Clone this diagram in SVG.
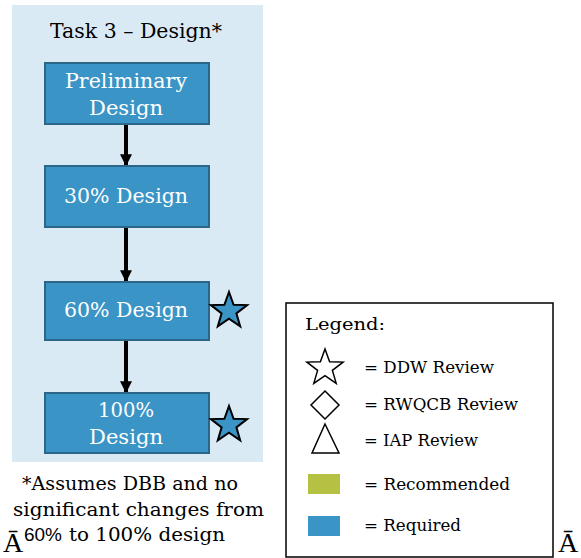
<svg xmlns="http://www.w3.org/2000/svg" width="581" height="558" viewBox="0 0 581 558">
  <defs>
    <style>
      .box { fill: #3A94C6; stroke: #2B6587; stroke-width: 2; }
      .boxlabel { font-family: "DejaVu Serif", "Liberation Serif", serif; fill: #ffffff; font-size: 21px; text-anchor: middle; }
      .blk { font-family: "DejaVu Serif", "Liberation Serif", serif; fill: #000000; }
      .star { fill: #3A94C6; stroke: #000000; stroke-width: 2; stroke-linejoin: miter; }
      .outline { fill: #ffffff; stroke: #000000; stroke-width: 1.5; }
      .conn { stroke: #000000; stroke-width: 4; fill: none; marker-end: url(#head); }
      .mark { font-family: "Liberation Serif", serif; font-size: 28px; fill: #000000; }
    </style>
    <marker id="head" viewBox="0 0 10 10" refX="9" refY="5" markerWidth="3" markerHeight="3" markerUnits="strokeWidth" orient="auto">
      <path d="M0,0 L10,5 L0,10 Z" fill="#000000"/>
    </marker>
    <path id="starShape" d="M0,-19 L4.6,-6.2 L18.1,-5.9 L7.4,2.4 L11.2,15.4 L0,7.7 L-11.2,15.4 L-7.4,2.4 L-18.1,-5.9 L-4.6,-6.2 Z"/>
  </defs>

  <rect width="581" height="558" fill="#ffffff"/>

  <!-- Task panel -->
  <g id="task-panel">
    <rect x="12" y="5" width="251" height="457" fill="#DAEAF4"/>
    <text class="blk" x="136" y="38" font-size="20" text-anchor="middle" textLength="172" lengthAdjust="spacingAndGlyphs">Task 3 – Design*</text>
  </g>

  <!-- Connectors -->
  <g id="connectors">
    <line class="conn" x1="126" y1="125" x2="126" y2="165"/>
    <line class="conn" x1="126" y1="228" x2="126" y2="281"/>
    <line class="conn" x1="126" y1="341" x2="126" y2="392"/>
  </g>

  <!-- Process steps -->
  <g id="node-preliminary">
    <rect class="box" x="45" y="63" width="164" height="61"/>
    <text class="boxlabel" x="126" y="88" textLength="122" lengthAdjust="spacingAndGlyphs">Preliminary</text>
    <text class="boxlabel" x="126" y="115" textLength="74" lengthAdjust="spacingAndGlyphs">Design</text>
  </g>
  <g id="node-30">
    <rect class="box" x="45" y="166" width="164" height="61"/>
    <text class="boxlabel" x="126" y="203" textLength="124" lengthAdjust="spacingAndGlyphs">30% Design</text>
  </g>
  <g id="node-60">
    <rect class="box" x="45" y="282" width="164" height="58"/>
    <text class="boxlabel" x="126" y="317" textLength="124" lengthAdjust="spacingAndGlyphs">60% Design</text>
    <use href="#starShape" class="star" transform="translate(229,311)"/>
  </g>
  <g id="node-100">
    <rect class="box" x="45" y="393" width="164" height="60"/>
    <text class="boxlabel" x="126" y="417" textLength="56" lengthAdjust="spacingAndGlyphs">100%</text>
    <text class="boxlabel" x="126" y="444" textLength="74" lengthAdjust="spacingAndGlyphs">Design</text>
    <use href="#starShape" class="star" transform="translate(229,425)"/>
  </g>

  <!-- Footnote -->
  <g id="footnote">
    <text class="blk" x="22" y="490" font-size="19" textLength="216" lengthAdjust="spacingAndGlyphs">*Assumes DBB and no</text>
    <text class="blk" x="13" y="516" font-size="19" textLength="251" lengthAdjust="spacingAndGlyphs">significant changes from</text>
    <text x="24" y="541" font-size="18" font-family="'Liberation Sans', Arial, sans-serif" fill="#000000" textLength="38" lengthAdjust="spacingAndGlyphs">60%</text>
    <text class="blk" x="69" y="541" font-size="19" textLength="156" lengthAdjust="spacingAndGlyphs">to 100% design</text>
    <text class="mark" x="3" y="552">Ā</text>
  </g>

  <!-- Legend -->
  <g id="legend">
    <rect x="286" y="303" width="267" height="254" fill="#ffffff" stroke="#000000" stroke-width="1.5"/>
    <text class="blk" x="305" y="330" font-size="17" textLength="80" lengthAdjust="spacingAndGlyphs">Legend:</text>

    <use href="#starShape" class="outline" transform="translate(325,368)"/>
    <text class="blk" x="364" y="373" font-size="16" textLength="130" lengthAdjust="spacingAndGlyphs">= DDW Review</text>

    <path class="outline" d="M325,391 L339,405 L325,419 L311,405 Z"/>
    <text class="blk" x="364" y="410" font-size="16" textLength="154" lengthAdjust="spacingAndGlyphs">= RWQCB Review</text>

    <path class="outline" d="M325,424 L339,453 L312,453 Z"/>
    <text class="blk" x="364" y="446" font-size="16" textLength="114" lengthAdjust="spacingAndGlyphs">= IAP Review</text>

    <rect x="308" y="474" width="32" height="20" fill="#B4C143"/>
    <text class="blk" x="364" y="490" font-size="16" textLength="146" lengthAdjust="spacingAndGlyphs">= Recommended</text>

    <rect x="308" y="516" width="32" height="20" fill="#3A95C6"/>
    <text class="blk" x="364" y="531" font-size="16" textLength="97" lengthAdjust="spacingAndGlyphs">= Required</text>
  </g>

  <text class="mark" x="558" y="552">Ā</text>
</svg>
